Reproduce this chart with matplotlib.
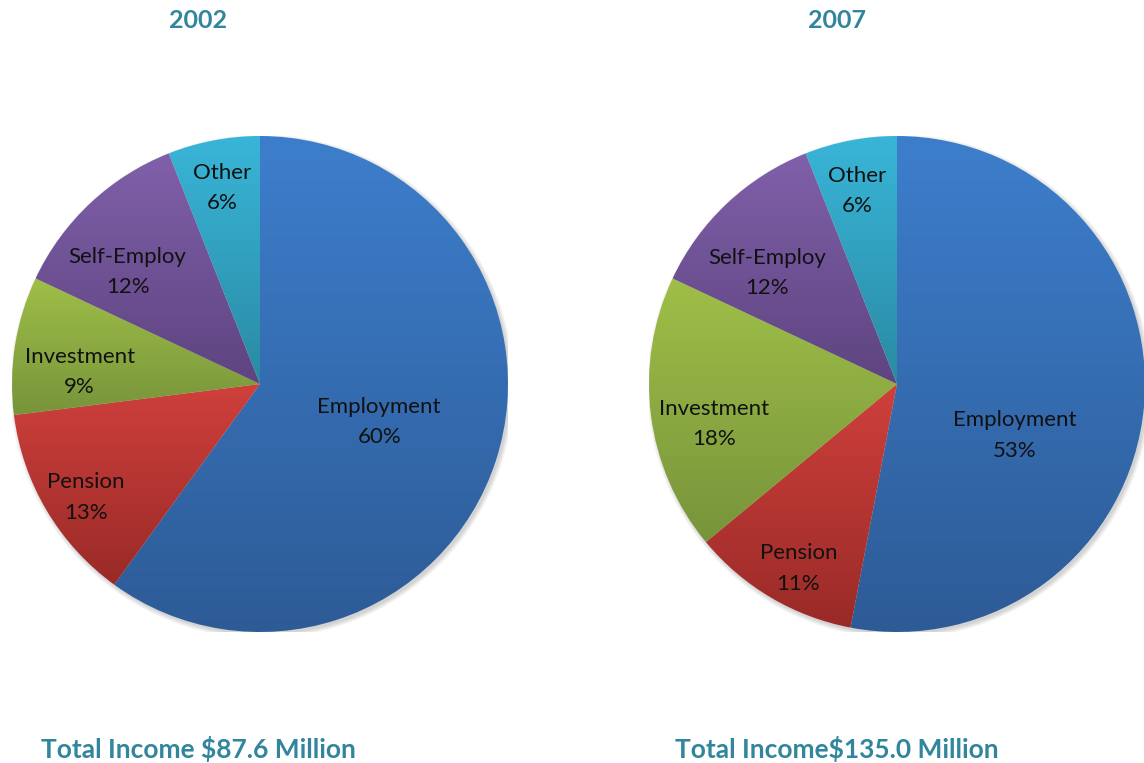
import numpy as np
import matplotlib.pyplot as plt
from matplotlib.colors import LinearSegmentedColormap
from matplotlib.patches import Circle

# ── data ─────────────────────────────────────────────
CATEGORIES = ["Employment", "Pension", "Investment", "Self-Employ", "Other"]
YEARS = ["2002", "2007"]
SHARES_2002 = [60, 13, 9, 12, 6]
SHARES_2007 = [53, 11, 18, 12, 6]
TOTALS = ["Total Income $87.6 Million", "Total Income$135.0 Million"]

# gradient fills (top, bottom) per category
GRADIENTS = [
    ("#3d7ecc", "#2d5b96"),
    ("#cf403c", "#992a27"),
    ("#9fbf48", "#77943a"),
    ("#8060aa", "#5e4480"),
    ("#39b5d8", "#2a8aa4"),
]
TEAL = "#31859c"

# label placement: fraction of radius, angle nudge (deg) from slice bisector
LABEL_LAYOUT = [
    [(0.50, 2.0), (0.83, 1.5), (0.73, 4.0), (0.71, 5.5), (0.82, 0.0)],
    [(0.51, -16.6), (0.83, 2.0), (0.75, 4.0), (0.70, 5.3), (0.81, 0.7)],
]
LABEL_DROP = 0.016  # small downward shift of the text block

W, H = 1144, 763
PIE_CENTERS = [(260, 384), (897, 384)]  # pixels from top-left
RADIUS_PX = 248
TEXT_X = [198, 837]

plt.rcParams["font.family"] = ["Lato", "DejaVu Sans"]

fig = plt.figure(figsize=(W / 100, H / 100), dpi=100)
fig.patch.set_facecolor("white")


def gradient_fill(ax, wedge, top, bottom):
    verts = wedge.get_path().vertices
    x0, x1 = verts[:, 0].min(), verts[:, 0].max()
    y0, y1 = verts[:, 1].min(), verts[:, 1].max()
    cmap = LinearSegmentedColormap.from_list("g", [bottom, top])
    grad = np.linspace(0, 1, 256).reshape(-1, 1)
    im = ax.imshow(grad, cmap=cmap, extent=[x0, x1, y0, y1], origin="lower",
                   aspect="auto", interpolation="bilinear", zorder=2)
    im.set_clip_path(wedge)
    wedge.set_facecolor("none")
    wedge.set_edgecolor("none")


for i, shares in enumerate([SHARES_2002, SHARES_2007]):
    cx, cy = PIE_CENTERS[i]
    r = RADIUS_PX
    ax = fig.add_axes([(cx - r) / W, (H - cy - r) / H, 2 * r / W, 2 * r / H])
    ax.set_axis_off()

    # soft shadow behind the pie
    for k in range(5):
        ax.add_patch(Circle((0.008, -0.010), 1.0 + k * 0.004, color="#000000",
                            alpha=0.035, lw=0, zorder=0))

    wedges, _ = ax.pie(shares, startangle=90, counterclock=False,
                       radius=1.0, colors=[g[0] for g in GRADIENTS],
                       wedgeprops=dict(linewidth=0))
    for w, (top, bottom) in zip(wedges, GRADIENTS):
        gradient_fill(ax, w, top, bottom)

    # labels along each slice bisector
    start = 90.0
    for j, (cat, val) in enumerate(zip(CATEGORIES, shares)):
        sweep = 360.0 * val / sum(shares)
        mid = start - sweep / 2
        start -= sweep
        frac, nudge = LABEL_LAYOUT[i][j]
        ang = np.deg2rad(mid + nudge)
        ax.text(frac * np.cos(ang), frac * np.sin(ang) - LABEL_DROP,
                f"{cat}\n{val}%", ha="center", va="center", fontsize=16,
                color="#111111", linespacing=1.65, zorder=5)

    ax.set_xlim(-1.0, 1.0)
    ax.set_ylim(-1.0, 1.0)

    fig.text(TEXT_X[i] / W, 1 - 21 / H, YEARS[i], ha="center", va="center",
             fontsize=18, fontweight="bold", color=TEAL)
    fig.text(TEXT_X[i] / W, 1 - 749 / H, TOTALS[i], ha="center", va="center",
             fontsize=19, fontweight="bold", color=TEAL)

fig.savefig("out.png", dpi=100, facecolor="white")
plt.close(fig)
